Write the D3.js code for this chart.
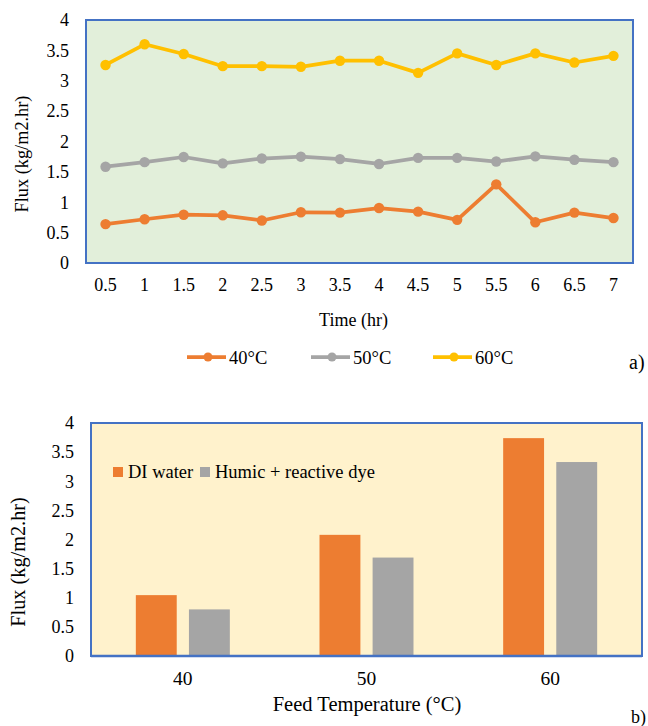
<!DOCTYPE html>
<html>
<head>
<meta charset="utf-8">
<script src="https://cdnjs.cloudflare.com/ajax/libs/d3/7.8.5/d3.min.js"></script>
<style>
  body { margin: 0; background: #fff; }
  svg text { font-family: "Times New Roman", "Liberation Serif", "DejaVu Serif", serif; fill: #000; }
</style>
</head>
<body>
<svg id="chart" width="648" height="726"></svg>
<script>
// chart a) flux over time
var times = ["0.5", "1", "1.5", "2", "2.5", "3", "3.5", "4", "4.5", "5", "5.5", "6", "6.5", "7"];
var flux40 = [0.64, 0.72, 0.795, 0.785, 0.70, 0.835, 0.83, 0.905, 0.845, 0.71, 1.295, 0.67, 0.83, 0.74];
var flux50 = [1.585, 1.66, 1.745, 1.64, 1.72, 1.75, 1.71, 1.63, 1.73, 1.73, 1.67, 1.755, 1.70, 1.66];
var flux60 = [3.26, 3.60, 3.44, 3.24, 3.24, 3.23, 3.33, 3.33, 3.13, 3.45, 3.26, 3.45, 3.30, 3.41];
var lineNames = ["40°C", "50°C", "60°C"];

// chart b) flux vs feed temperature
var feedTemps = ["40", "50", "60"];
var diWater = [1.045, 2.08, 3.74];
var humicDye = [0.80, 1.69, 3.33];
var barNames = ["DI water", "Humic + reactive dye"];

var yTicks = [0, 0.5, 1, 1.5, 2, 2.5, 3, 3.5, 4];
var colors = ["#ED7D31", "#A5A5A5", "#FFC000"];
var serif = '"Times New Roman", "Liberation Serif", "DejaVu Serif", serif';

var svg = d3.select("#chart");

// ---------- top chart ----------
var a = { left: 86, right: 633, top: 20, bottom: 263 };

var xA = d3.scaleBand().domain(times).range([a.left, a.right]);
var yA = d3.scaleLinear().domain([0, 4]).range([a.bottom, a.top]);

svg.append("rect")
  .attr("x", a.left).attr("y", a.top)
  .attr("width", a.right - a.left).attr("height", a.bottom - a.top)
  .style("fill", "#E2EFDA")
  .style("stroke", "#4472C4")
  .style("stroke-width", 2);

var yAxisA = svg.append("g")
  .attr("transform", "translate(" + a.left + ",0)")
  .call(d3.axisLeft(yA).tickValues(yTicks).tickSize(0).tickPadding(17).tickFormat(d3.format("")));
yAxisA.select(".domain").remove();
yAxisA.attr("font-family", serif).attr("font-size", 18);

var xAxisA = svg.append("g")
  .attr("transform", "translate(0," + a.bottom + ")")
  .call(d3.axisBottom(xA).tickSize(0).tickPadding(15));
xAxisA.select(".domain").remove();
xAxisA.attr("font-family", serif).attr("font-size", 18);

var seriesA = [flux40, flux50, flux60];
var line = d3.line()
  .x((d, i) => xA(times[i]) + xA.bandwidth() / 2)
  .y(d => yA(d));

seriesA.forEach(function (vals, k) {
  var g = svg.append("g");
  g.append("path")
    .datum(vals)
    .attr("d", line)
    .style("fill", "none")
    .style("stroke", colors[k])
    .style("stroke-width", 3.75)
    .style("stroke-linejoin", "round");
  g.selectAll("circle")
    .data(vals)
    .enter()
    .append("circle")
    .attr("cx", (d, i) => xA(times[i]) + xA.bandwidth() / 2)
    .attr("cy", d => yA(d))
    .attr("r", 5.2)
    .style("fill", colors[k]);
});

svg.append("text")
  .attr("transform", "translate(28,154) rotate(-90)")
  .attr("text-anchor", "middle")
  .style("font-size", "18.3px")
  .text("Flux (kg/m2.hr)");

svg.append("text")
  .attr("x", 353.5).attr("y", 326)
  .attr("text-anchor", "middle")
  .style("font-size", "18px")
  .text("Time (hr)");

var legendA = svg.append("g");
var legX = [187, 311, 433];
lineNames.forEach(function (name, k) {
  var lg = legendA.append("g").attr("transform", "translate(" + legX[k] + ",357)");
  lg.append("line").attr("x1", 0).attr("x2", 39).attr("y1", 0).attr("y2", 0)
    .style("stroke", colors[k]).style("stroke-width", 3.75);
  lg.append("circle").attr("cx", 21).attr("cy", 0).attr("r", 4.5).style("fill", colors[k]);
  lg.append("text").attr("x", 42).attr("y", 6.5).style("font-size", "18.5px").text(name);
});

svg.append("text")
  .attr("x", 629).attr("y", 369)
  .style("font-size", "20px")
  .text("a)");

// ---------- bottom chart ----------
var b = { left: 91, right: 642, top: 423, bottom: 656 };

var xB = d3.scaleBand().domain(feedTemps).range([b.left, b.right]);
var xB1 = d3.scaleBand().domain(barNames).range([0, 94]).paddingInner(0.23);
var yB = d3.scaleLinear().domain([0, 4]).range([b.bottom, b.top]);

svg.append("rect")
  .attr("x", b.left).attr("y", b.top)
  .attr("width", b.right - b.left).attr("height", b.bottom - b.top)
  .style("fill", "#FFF2CC")
  .style("stroke", "#4472C4")
  .style("stroke-width", 2);

var yAxisB = svg.append("g")
  .attr("transform", "translate(" + b.left + ",0)")
  .call(d3.axisLeft(yB).tickValues(yTicks).tickSize(0).tickPadding(17).tickFormat(d3.format("")));
yAxisB.select(".domain").remove();
yAxisB.attr("font-family", serif).attr("font-size", 18);

var xAxisB = svg.append("g")
  .attr("transform", "translate(0," + b.bottom + ")")
  .call(d3.axisBottom(xB).tickSize(0).tickPadding(15));
xAxisB.select(".domain").remove();
xAxisB.attr("font-family", serif).attr("font-size", 19.5);

var seriesB = [diWater, humicDye];
seriesB.forEach(function (vals, k) {
  svg.append("g")
    .selectAll("rect")
    .data(vals)
    .enter()
    .append("rect")
    .attr("x", (d, i) => xB(feedTemps[i]) + xB.bandwidth() / 2 - 47 + xB1(barNames[k]))
    .attr("y", d => yB(d))
    .attr("width", xB1.bandwidth())
    .attr("height", d => yB(0) - yB(d))
    .style("fill", colors[k]);
});

// redraw the bottom axis line over bars
svg.append("line")
  .attr("x1", b.left).attr("x2", b.right)
  .attr("y1", b.bottom).attr("y2", b.bottom)
  .style("stroke", "#4472C4").style("stroke-width", 2.5);

var legB = [113, 200];
barNames.forEach(function (name, k) {
  svg.append("rect").attr("x", legB[k]).attr("y", 467).attr("width", 10).attr("height", 10)
    .style("fill", colors[k]);
  svg.append("text").attr("x", legB[k] + 15).attr("y", 478)
    .style("font-size", "18.5px").text(name);
});

svg.append("text")
  .attr("transform", "translate(25,562) rotate(-90)")
  .attr("text-anchor", "middle")
  .style("font-size", "20.3px")
  .text("Flux (kg/m2.hr)");

svg.append("text")
  .attr("x", 367).attr("y", 711)
  .attr("text-anchor", "middle")
  .style("font-size", "20.5px")
  .text("Feed Temperature (°C)");

svg.append("text")
  .attr("x", 631).attr("y", 723)
  .style("font-size", "18px")
  .text("b)");
</script>
</body>
</html>
